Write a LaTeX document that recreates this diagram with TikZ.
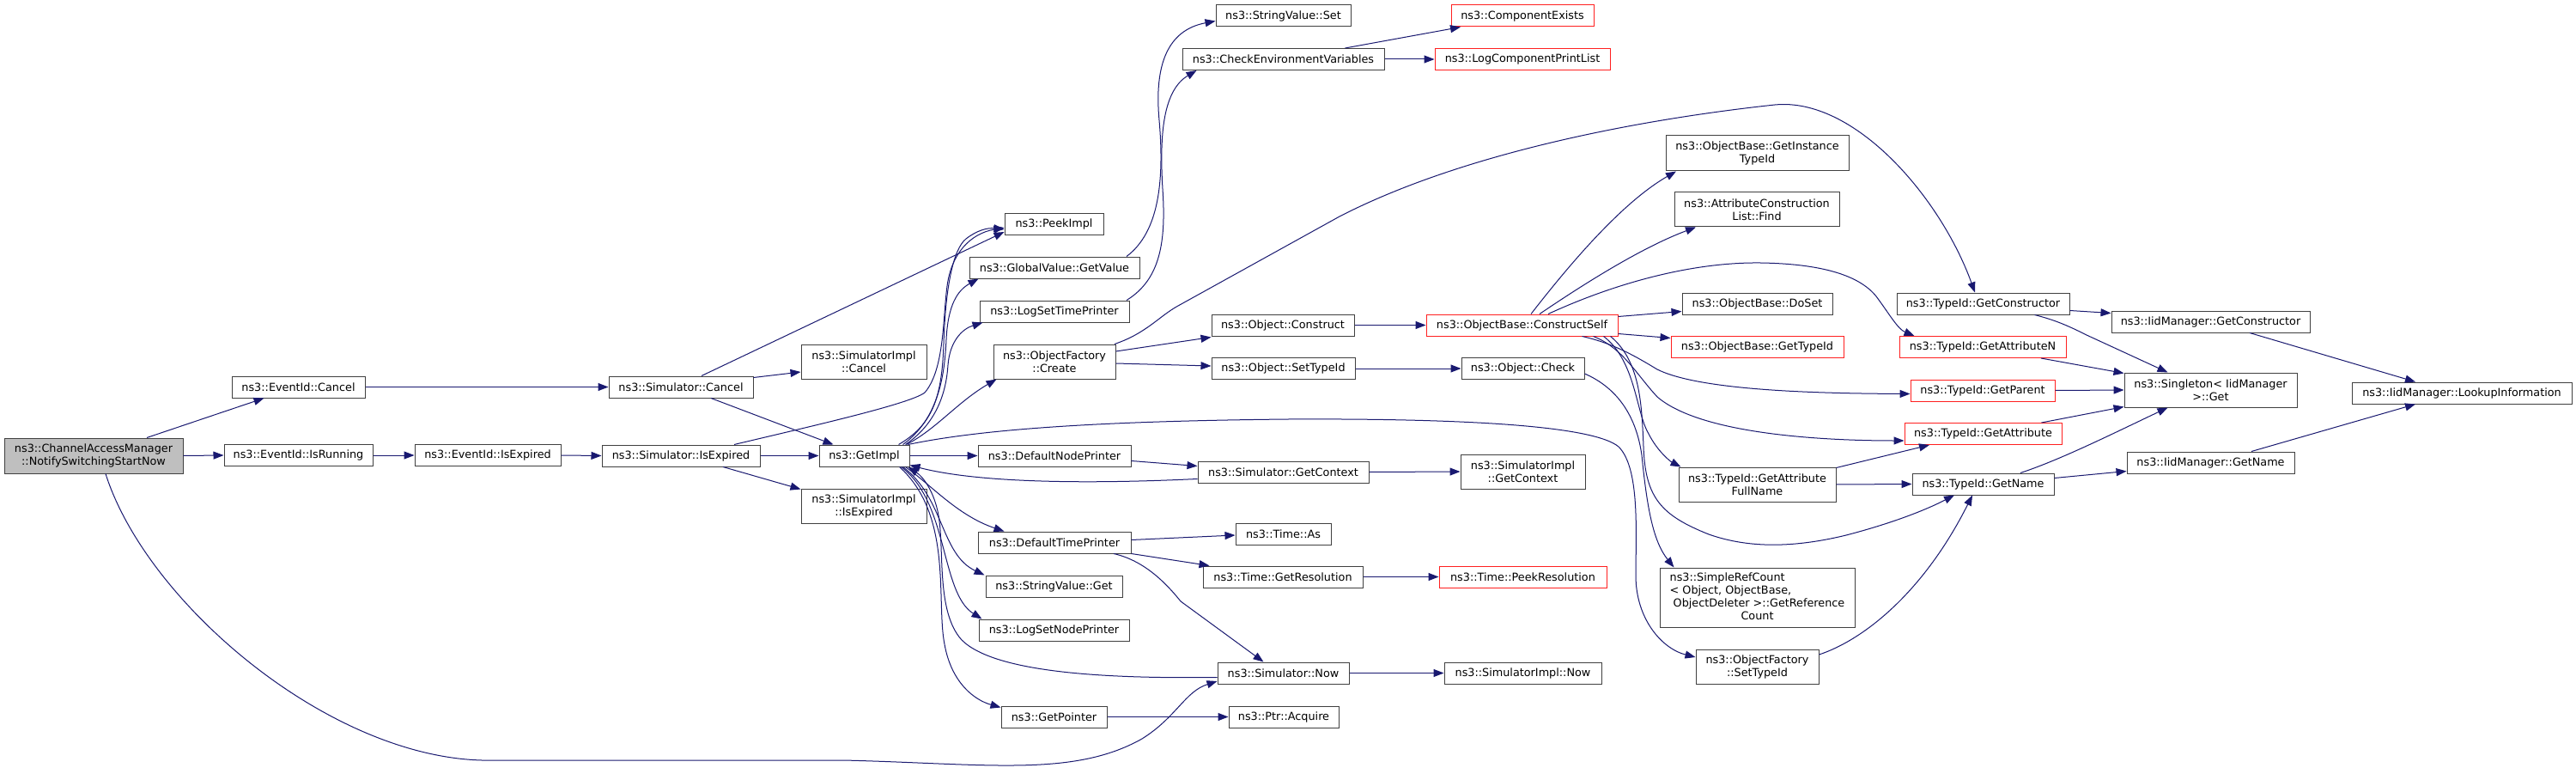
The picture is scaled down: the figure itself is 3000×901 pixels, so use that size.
\documentclass[tikz,border=0pt]{standalone}
\usepackage{fontspec}
\newfontfamily\dvs{DejaVu Sans}
\usetikzlibrary{arrows.meta}
\definecolor{edgec}{HTML}{191970}
\definecolor{bord}{HTML}{404040}
\definecolor{camgray}{HTML}{BFBFBF}
\definecolor{redb}{HTML}{FF2020}
\tikzset{
  fnbase/.style={draw=bord, fill=white, line width=1pt, inner sep=0pt, minimum height=25,
    font=\dvs\fontsize{12.8}{15}\selectfont},
  fn/.style={fnbase, align=center},
  fnred/.style={fn, draw=redb},
  call/.style={draw=edgec, line width=1pt, -{Triangle[length=12pt,width=9pt]}},
}
\begin{document}
\begin{tikzpicture}[x=1pt,y=-1pt]
\fill[white] (0,0) rectangle (3000,901);
\useasboundingbox (0,0) rectangle (3000,901);
% column 1-5
\node[fn, minimum width=208, minimum height=41, fill=camgray] (cam) at (109,530.5) {ns3::ChannelAccessManager\\::NotifySwitchingStartNow};
\node[fn, minimum width=155] (evcancel) at (347.5,450.5) {ns3::EventId::Cancel};
\node[fn, minimum width=173] (evrunning) at (347.5,530) {ns3::EventId::IsRunning};
\node[fn, minimum width=170] (evexpired) at (568,530) {ns3::EventId::IsExpired};
\node[fn, minimum width=168] (simcancel) at (793,450.5) {ns3::Simulator::Cancel};
\node[fn, minimum width=184] (simexpired) at (793,530.5) {ns3::Simulator::IsExpired};
\node[fn, minimum width=146, minimum height=40] (simimplcancel) at (1006,421) {ns3::SimulatorImpl\\::Cancel};
\node[fn, minimum width=105] (getimpl) at (1006.5,530.5) {ns3::GetImpl};
\node[fn, minimum width=146, minimum height=40] (simimplexpired) at (1006,589) {ns3::SimulatorImpl\\::IsExpired};
% column 6
\node[fn, minimum width=115] (peekimpl) at (1227.5,261) {ns3::PeekImpl};
\node[fn, minimum width=198] (globalvalue) at (1228,311.5) {ns3::GlobalValue::GetValue};
\node[fn, minimum width=174] (logsettime) at (1228,362.5) {ns3::LogSetTimePrinter};
\node[fn, minimum width=142, minimum height=40] (ofcreate) at (1228,421) {ns3::ObjectFactory\\::Create};
\node[fn, minimum width=178] (defnode) at (1228,530.5) {ns3::DefaultNodePrinter};
\node[fn, minimum width=178] (deftime) at (1228,631.5) {ns3::DefaultTimePrinter};
\node[fn, minimum width=159] (stringget) at (1227.5,682.5) {ns3::StringValue::Get};
\node[fn, minimum width=175] (logsetnode) at (1227.5,733.5) {ns3::LogSetNodePrinter};
\node[fn, minimum width=123] (getpointer) at (1227.5,834.5) {ns3::GetPointer};
% column 7
\node[fn, minimum width=157] (stringset) at (1494.5,18.5) {ns3::StringValue::Set};
\node[fn, minimum width=235] (checkenv) at (1494.5,69) {ns3::CheckEnvironmentVariables};
\node[fn, minimum width=166] (objconstruct) at (1494,378.5) {ns3::Object::Construct};
\node[fn, minimum width=167] (objsettypeid) at (1494.5,429) {ns3::Object::SetTypeId};
\node[fn, minimum width=199] (simgetcontext) at (1494.5,549.5) {ns3::Simulator::GetContext};
\node[fn, minimum width=111] (timeas) at (1494.5,621.5) {ns3::Time::As};
\node[fn, minimum width=186] (timegetres) at (1494,671.5) {ns3::Time::GetResolution};
\node[fn, minimum width=153] (simnow) at (1494.5,783.5) {ns3::Simulator::Now};
\node[fn, minimum width=128] (ptracquire) at (1495,834.5) {ns3::Ptr::Acquire};
% column 8
\node[fnred, minimum width=166] (compexists) at (1773,18.5) {ns3::ComponentExists};
\node[fnred, minimum width=204] (logcompprint) at (1773,69) {ns3::LogComponentPrintList};
\node[fnred, minimum width=223] (constructself) at (1772.5,378.5) {ns3::ObjectBase::ConstructSelf};
\node[fn, minimum width=143] (objcheck) at (1773.5,429) {ns3::Object::Check};
\node[fn, minimum width=145, minimum height=40] (simimplgetctx) at (1773.5,549) {ns3::SimulatorImpl\\::GetContext};
\node[fnred, minimum width=195] (peekres) at (1773.5,671.5) {ns3::Time::PeekResolution};
\node[fn, minimum width=183] (simimplnow) at (1773.5,783.5) {ns3::SimulatorImpl::Now};
% column 9
\node[fn, minimum width=213, minimum height=41] (getinsttype) at (2046.5,178.5) {ns3::ObjectBase::GetInstance\\TypeId};
\node[fn, minimum width=192, minimum height=40] (attrfind) at (2046,244) {ns3::AttributeConstruction\\List::Find};
\node[fn, minimum width=175] (doset) at (2046.5,353.5) {ns3::ObjectBase::DoSet};
\node[fnred, minimum width=201] (obgettypeid) at (2046.5,403.5) {ns3::ObjectBase::GetTypeId};
\node[fn, minimum width=183, minimum height=40] (getattrfull) at (2046.5,564) {ns3::TypeId::GetAttribute\\FullName};
\node[fnbase, minimum width=227, minimum height=69] (simplerefcount) at (2046.5,695.5) {\begin{tabular}{@{}l@{}}ns3::SimpleRefCount\\{<} Object, ObjectBase,\\\hspace*{4pt}ObjectDeleter {>}::GetReference\\\multicolumn{1}{@{}c@{}}{Count}\end{tabular}};
\node[fn, minimum width=143, minimum height=40] (ofsettypeid) at (2046.5,776) {ns3::ObjectFactory\\::SetTypeId};
% column 10
\node[fn, minimum width=201] (tidgetctor) at (2309.5,353.5) {ns3::TypeId::GetConstructor};
\node[fnred, minimum width=194] (tidgetattrn) at (2309,404) {ns3::TypeId::GetAttributeN};
\node[fnred, minimum width=168] (tidgetparent) at (2309,454.5) {ns3::TypeId::GetParent};
\node[fnred, minimum width=183] (tidgetattr) at (2309.5,505) {ns3::TypeId::GetAttribute};
\node[fn, minimum width=165] (tidgetname) at (2309.5,563.5) {ns3::TypeId::GetName};
% column 11-12
\node[fn, minimum width=231] (iidgetctor) at (2574.5,374.5) {ns3::IidManager::GetConstructor};
\node[fn, minimum width=201, minimum height=40] (singleton) at (2574.5,454) {ns3::Singleton{<} IidManager\\{>}::Get};
\node[fn, minimum width=195] (iidgetname) at (2574.5,538.5) {ns3::IidManager::GetName};
\node[fn, minimum width=256] (lookup) at (2867,457.5) {ns3::IidManager::LookupInformation};

% ---------------- edges ----------------
\draw[call] ([xshift=62]cam.north) -- ([xshift=-40]evcancel.south);
\draw[call] (cam.east) -- (evrunning.west);
\draw[call] ([xshift=14]cam.south) .. controls (170,700) and (380,880) .. (561,885) -- (982,885)
   .. controls (1150,889) and (1250,905) .. (1330,860) .. controls (1370,835) and (1380,805) .. ([yshift=-9.5]simnow.west);
\draw[call] (evcancel.east) -- (simcancel.west);
\draw[call] (evrunning.east) -- (evexpired.west);
\draw[call] (evexpired.east) -- (simexpired.west);
\draw[call] ([xshift=24]simcancel.north) -- ([yshift=-9]peekimpl.west);
\draw[call] ([yshift=11]simcancel.east) -- ([yshift=-12]simimplcancel.west);
\draw[call] ([xshift=35]simcancel.south) -- ([xshift=-36]getimpl.north);
\draw[call] ([xshift=49]simexpired.south) -- ([yshift=-1]simimplexpired.north west);
\draw[call] (simexpired.east) -- (getimpl.west);
\draw[call] ([xshift=62]simexpired.north) .. controls (950,495) and (1060,470) .. (1077,457)
   .. controls (1100,430) and (1098,370) .. (1103,333) .. controls (1108,295) and (1130,272) .. ([yshift=-4]peekimpl.west);
% GetImpl fan
\draw[call] ([xshift=40]getimpl.north) .. controls (1085,495) and (1097,465) .. (1099,400)
   .. controls (1101,335) and (1110,290) .. (1125,278) .. controls (1138,268) and (1150,265) .. ([yshift=-6]peekimpl.west);
\draw[call] ([xshift=45]getimpl.north) .. controls (1092,488) and (1100,440) .. (1102,395)
   .. controls (1104,355) and (1115,338) .. ([xshift=11]globalvalue.south west);
\draw[call] ([xshift=48]getimpl.north) .. controls (1092,492) and (1102,455) .. (1104,425)
   .. controls (1106,398) and (1120,383) .. ([xshift=4]logsettime.south west);
\draw[call] ([xshift=49]getimpl.north) .. controls (1090,500) and (1115,468) .. ([xshift=4]ofcreate.south west);
\draw[call] (getimpl.east) -- (defnode.west);
\draw[call] ([xshift=51]getimpl.north) .. controls (1150,498) and (1300,490) .. (1500,488)
   .. controls (1700,487) and (1855,495) .. (1885,520) .. controls (1910,545) and (1905,620) .. (1905,670)
   .. controls (1905,720) and (1935,755) .. ([yshift=11]ofsettypeid.west);
\draw[call] ([xshift=48]getimpl.south) .. controls (1085,565) and (1115,600) .. ([xshift=31]deftime.north west);
\draw[call] ([xshift=45]getimpl.south) .. controls (1100,580) and (1095,645) .. ([xshift=-1]stringget.north west);
\draw[call] ([xshift=43]getimpl.south) .. controls (1105,585) and (1095,690) .. ([xshift=4]logsetnode.north west);
\draw[call] ([xshift=41]getimpl.south) .. controls (1110,600) and (1090,700) .. (1100,750)
   .. controls (1108,795) and (1135,815) .. ([yshift=-2]getpointer.north west);
\draw[call] ([yshift=-5]simnow.west) .. controls (1300,790) and (1160,785) .. (1120,745)
   .. controls (1090,712) and (1100,640) .. (1093,600) .. controls (1088,572) and (1075,555) .. ([xshift=-2]getimpl.south east);
\draw[call] ([yshift=-8]simgetcontext.west) .. controls (1300,562) and (1150,565) .. ([yshift=2]getimpl.south east);
% column 6 -> 7
\draw[call] ([yshift=-6]defnode.east) -- ([yshift=7]simgetcontext.west);
\draw[call] ([yshift=3]deftime.east) -- ([yshift=-1.5]timeas.west);
\draw[call] (deftime.south east) -- ([xshift=8]timegetres.north west);
\draw[call] ([xshift=69]deftime.south) .. controls (1330,652) and (1355,675) .. (1375,700) -- ([xshift=-23]simnow.north);
\draw[call] (timegetres.east) -- (peekres.west);
\draw[call] (simgetcontext.east) -- (simimplgetctx.west);
\draw[call] (simnow.east) -- (simimplnow.west);
\draw[call] (getpointer.east) -- (ptracquire.west);
\draw[call] ([xshift=84]globalvalue.north) .. controls (1350,270) and (1356,210) .. (1350,140)
   .. controls (1344,75) and (1360,35) .. ([yshift=-6]stringset.west);
\draw[call] ([xshift=84]logsettime.north) .. controls (1352,325) and (1358,280) .. (1354,220)
   .. controls (1350,155) and (1355,105) .. ([xshift=17]checkenv.south west);
\draw[call] ([xshift=72]checkenv.north) -- ([xshift=-72]compexists.south);
\draw[call] (checkenv.east) -- (logcompprint.west);
\draw[call] ([yshift=12]ofcreate.east) -- ([yshift=-14]objconstruct.west);
\draw[call] ([yshift=-2]ofcreate.east) -- ([yshift=3]objsettypeid.west);
\draw[call] ([xshift=70]ofcreate.north) .. controls (1335,388) and (1350,368) .. (1372,356) -- (1560,252)
   .. controls (1700,180) and (1900,140) .. (2067,122) .. controls (2160,113) and (2260,230) .. ([xshift=-9.5]tidgetctor.north);
% column 7 -> 8/9
\draw[call] (objconstruct.east) -- (constructself.west);
\draw[call] (objsettypeid.east) -- (objcheck.west);
\draw[call] ([xshift=10.5]constructself.north) .. controls (1830,305) and (1890,235) .. ([xshift=-94.5]getinsttype.south);
\draw[call] ([xshift=20.5]constructself.north) .. controls (1860,320) and (1920,285) .. ([xshift=-71]attrfind.south);
\draw[call] ([xshift=30.5]constructself.north) .. controls (1880,330) and (1970,305) .. (2050,306)
   .. controls (2120,307) and (2165,320) .. (2185,345) .. controls (2200,365) and (2210,383) .. ([xshift=18]tidgetattrn.north west);
\draw[call] ([yshift=10]constructself.east) -- ([yshift=-9]doset.west);
\draw[call] ([yshift=-10]constructself.east) -- ([yshift=10]obgettypeid.west);
\draw[call] ([xshift=70]constructself.south) .. controls (1880,400) and (1905,415) .. (1930,430)
   .. controls (1980,455) and (2120,458) .. ([yshift=-4]tidgetparent.west);
\draw[call] ([xshift=83]constructself.south) .. controls (1890,405) and (1905,435) .. (1930,462)
   .. controls (1980,505) and (2120,513) .. ([yshift=-8]tidgetattr.west);
\draw[call] ([xshift=95]constructself.south) .. controls (1905,420) and (1905,480) .. (1920,505)
   .. controls (1930,525) and (1945,537) .. ([xshift=3]getattrfull.north west);
\draw[call] ([xshift=103]constructself.south) .. controls (1910,420) and (1912,470) .. (1914,520)
   .. controls (1916,580) and (1935,600) .. (1990,622) .. controls (2030,636) and (2080,640) .. (2150,623)
   .. controls (2200,610) and (2240,595) .. ([xshift=-33.5]tidgetname.south);
\draw[call] ([yshift=-6]objcheck.east) .. controls (1880,450) and (1905,480) .. (1912,530)
   .. controls (1918,590) and (1925,630) .. ([xshift=17]simplerefcount.north west);
% column 9 -> 10
\draw[call] ([yshift=14]ofsettypeid.east) .. controls (2170,745) and (2240,690) .. ([xshift=-12.5]tidgetname.south);
\draw[call] ([yshift=-1]getattrfull.north east) -- ([xshift=-62.5]tidgetattr.south);
\draw[call] (getattrfull.east) -- (tidgetname.west);
% column 10 -> 11
\draw[call] ([yshift=-8]tidgetctor.east) -- ([yshift=10]iidgetctor.west);
\draw[call] ([xshift=60]tidgetctor.south) .. controls (2395,373) and (2410,380) .. (2430,390) -- ([xshift=-50]singleton.north);
\draw[call] ([xshift=68]tidgetattrn.south) -- ([yshift=-1]singleton.north west);
\draw[call] (tidgetparent.east) -- (singleton.west);
\draw[call] ([xshift=68]tidgetattr.north) -- ([yshift=1]singleton.south west);
\draw[call] ([xshift=43.5]tidgetname.north) .. controls (2400,535) and (2460,505) .. ([xshift=-50]singleton.south);
\draw[call] ([yshift=7]tidgetname.east) -- ([yshift=-10]iidgetname.west);
% column 11 -> 12
\draw[call] ([xshift=45.5]iidgetctor.south) -- ([xshift=-54]lookup.north);
\draw[call] ([xshift=47.5]iidgetname.north) -- ([xshift=-54]lookup.south);
\end{tikzpicture}
\end{document}
